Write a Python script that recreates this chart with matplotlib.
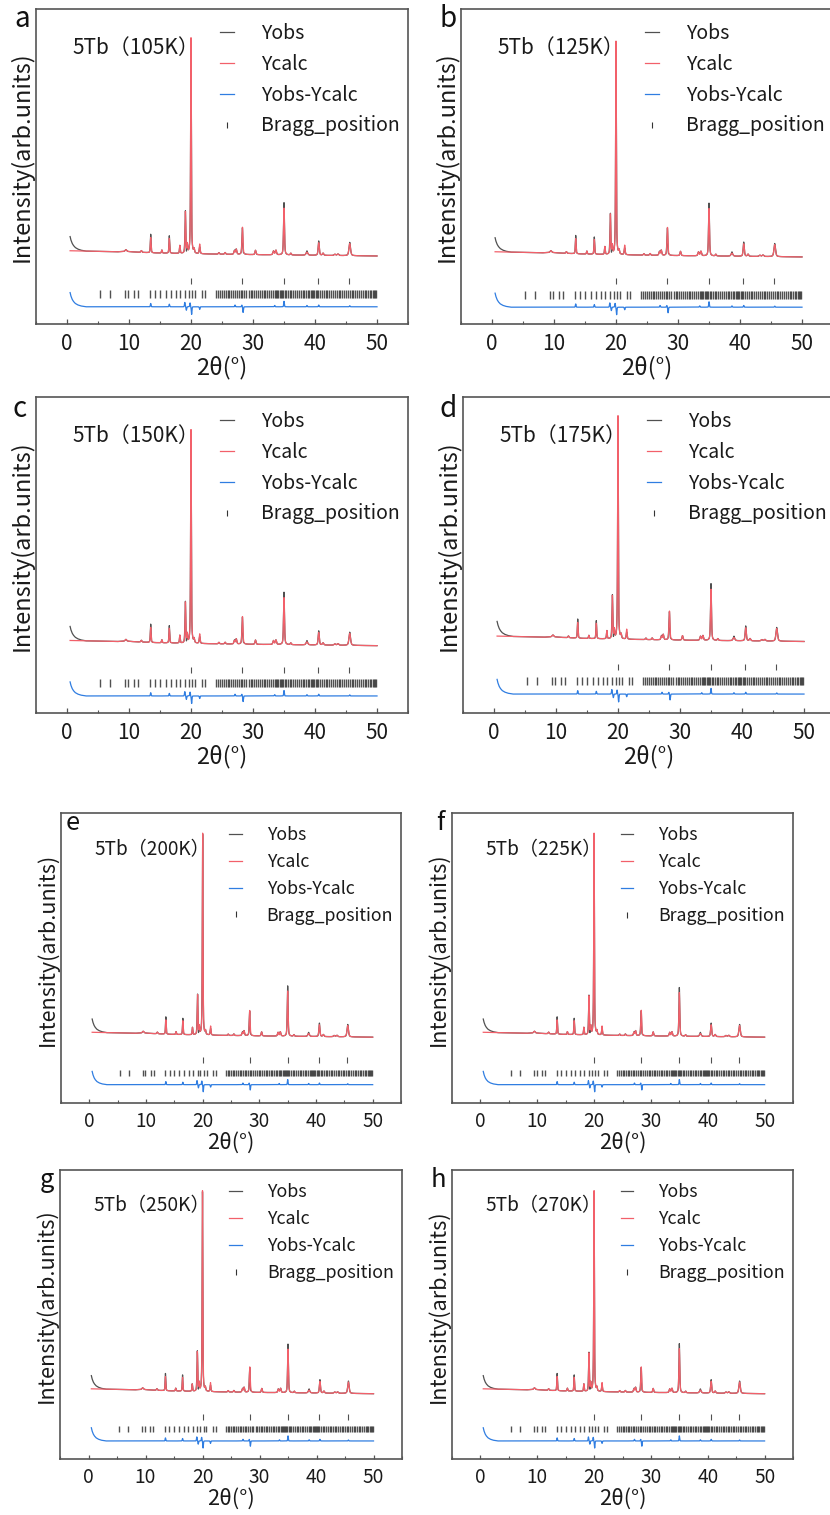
import numpy as np
import matplotlib
matplotlib.use('Agg')
import matplotlib.pyplot as plt
from matplotlib.lines import Line2D
from matplotlib.ticker import MultipleLocator

plt.rcParams['font.family'] = ['Noto Sans CJK SC', 'DejaVu Sans']

# ---------------- data ----------------
panel_letters = ['a', 'b', 'c', 'd', 'e', 'f', 'g', 'h']
temperatures = ['105K', '125K', '150K', '175K', '200K', '225K', '250K', '270K']

# calculated peaks (2theta, height above background, fwhm)
peak_pos = [9.5, 12.0, 13.5, 15.3, 16.5, 18.2, 19.1, 19.4, 20.0, 20.5, 21.4,
            24.5, 25.5, 27.0, 27.3, 28.3, 30.4, 33.3, 33.7, 35.0, 36.1,
            38.7, 40.6, 41.3, 43.2, 43.7, 45.6]
peak_height = [0.8, 0.8, 7.0, 1.4, 6.8, 3.6, 19.0, 4.0, 99.0, 1.8, 4.4,
               0.7, 0.8, 1.6, 2.4, 12.5, 2.0, 1.8, 2.1, 21.5, 0.8,
               1.4, 5.8, 1.0, 0.6, 0.7, 5.6]
peak_fwhm = [0.3, 0.2, 0.14, 0.15, 0.14, 0.14, 0.14, 0.14, 0.14, 0.15, 0.16,
             0.2, 0.2, 0.2, 0.2, 0.18, 0.2, 0.22, 0.22, 0.18, 0.2,
             0.35, 0.22, 0.25, 0.3, 0.3, 0.3]

# per-panel heights of the three strong secondary reflections
h_19p1 = [19.0, 18.5, 18.8, 19.0, 19.4, 18.9, 19.4, 18.7]
h_28p3 = [12.5, 13.0, 12.8, 12.8, 12.4, 12.5, 12.5, 12.5]
h_35p0 = [21.5, 22.0, 21.8, 22.7, 22.2, 21.4, 21.5, 21.7]

# slowly varying background of the calculated pattern
bg_x = [0.5, 2.0, 5.0, 8.0, 9.5, 11.0, 14.0, 20.0, 25.0, 30.0, 40.0, 50.0]
bg_y = [2.4, 2.3, 2.1, 1.9, 2.1, 1.8, 1.4, 1.0, 0.8, 0.6, 0.3, 0.0]

# low-angle excess of the observed pattern
upturn_x = [0.5, 0.6, 0.8, 1.0, 1.3, 1.7, 2.2, 3.0, 50.0]
upturn_y = [6.5, 5.2, 3.6, 2.6, 1.6, 0.9, 0.4, 0.0, 0.0]

# residual features (Yobs - Ycalc) at reflections
resid_pos = [13.5, 16.5, 19.0, 19.25, 19.85, 20.1, 21.4, 27.1, 28.2, 28.4,
             33.5, 35.0, 38.7, 40.6, 45.6]
resid_amp = [1.5, 1.2, 2.0, -1.6, 1.8, -3.5, -1.2, 0.8, 0.8, -2.6,
             0.6, 2.5, 0.6, 0.8, 0.5]

# Bragg reflections of the two phases
bragg_main = [5.4, 7.0, 9.4, 9.9, 10.8, 11.4, 13.4, 14.2, 15.0, 15.9, 16.7,
              17.5, 18.3, 19.1, 19.6, 20.2, 20.7, 21.8, 22.3, 24.1, 24.4,
              24.7, 25.0, 25.3, 25.6, 25.9, 26.2, 26.5, 26.8, 27.1, 27.4,
              27.7, 28.0, 28.3, 28.6, 28.9, 29.3, 29.6, 29.9, 30.2, 30.5,
              30.8, 31.1, 31.4, 31.7, 32.0, 32.3, 32.6, 32.9, 33.2, 33.5,
              33.7, 33.9, 34.1, 34.3, 34.5, 34.7, 34.9, 35.1, 35.3, 35.6,
              35.9, 36.2, 36.5, 36.8, 37.1, 37.4, 37.7, 38.0, 38.3, 38.6,
              38.9, 39.1, 39.3, 39.5, 39.7, 39.9, 40.1, 40.3, 40.5, 40.8,
              41.1, 41.4, 41.7, 42.0, 42.3, 42.6, 42.9, 43.2, 43.5, 43.8,
              44.1, 44.4, 44.7, 45.0, 45.3, 45.6, 45.9, 46.2, 46.5, 46.8,
              47.1, 47.4, 47.7, 48.0, 48.3, 48.6, 48.9, 49.1, 49.3, 49.5,
              49.7, 49.9]
bragg_second = [20.0, 28.3, 35.0, 40.5, 45.5]

x_ticks = [0, 10, 20, 30, 40, 50]

# --------------- layout (pixels in an 830x1515 canvas) ---------------
W, H = 830, 1515
axes_px = [  # left, top, right, bottom
    (36, 9, 408, 324), (461, 9, 833, 324),
    (36, 397, 408, 713), (463, 397, 835, 713),
    (61, 813, 401, 1103), (452, 813, 793, 1103),
    (60, 1170, 402, 1459), (452, 1170, 793, 1459),
]
ylims = [(-31.2, 113.3), (-31.1, 115.0), (-31.2, 115.2), (-31.7, 108.4),
         (-32.3, 110.0), (-32.3, 110.0), (-32.2, 110.3), (-32.2, 110.3)]
letter_px = [(22, 27), (448, 27), (20, 417), (448, 417),
             (73, 830), (440, 830), (47, 1187), (438, 1187)]

OFF_BRAGG2 = -11.3
OFF_BRAGG1 = -17.5
OFF_DIFF = -23.3

C_OBS = '#505050'
C_CALC = '#f2606a'
C_DIFF = '#2f7de1'
C_BRAGG = '#333333'
C_SPINE = '#555555'
C_TEXT = '#1a1a1a'

x = np.arange(0.5, 50.0001, 0.01)


def pv(x, pos, h, fwhm, eta=0.5):
    g = np.exp(-4 * np.log(2) * ((x - pos) / fwhm) ** 2)
    l = 1.0 / (1.0 + 4 * ((x - pos) / fwhm) ** 2)
    return h * (eta * l + (1 - eta) * g)


fig = plt.figure(figsize=(W / 100, H / 100), dpi=100)

for i in range(8):
    l, t, r, b = axes_px[i]
    ax = fig.add_axes([l / W, 1 - b / H, (r - l) / W, (b - t) / H])
    s = (r - l) / 372.0

    heights = list(peak_height)
    heights[peak_pos.index(19.1)] = h_19p1[i]
    heights[peak_pos.index(28.3)] = h_28p3[i]
    heights[peak_pos.index(35.0)] = h_35p0[i]

    ycalc = np.interp(x, bg_x, bg_y)
    for p, h, w in zip(peak_pos, heights, peak_fwhm):
        ycalc = ycalc + pv(x, p, h, w)
    excess = np.interp(x, upturn_x, upturn_y)
    for p, a in zip(resid_pos, resid_amp):
        excess = excess + pv(x, p, a, 0.12, eta=0.2)
    yobs = ycalc + excess
    diff = yobs - ycalc + OFF_DIFF

    ax.plot(x, yobs, color=C_OBS, lw=0.9, zorder=2)
    ax.plot(x, ycalc, color=C_CALC, lw=0.9, zorder=3)
    ax.plot(x, diff, color=C_DIFF, lw=0.9, zorder=3)
    ax.plot(bragg_main, np.full(len(bragg_main), OFF_BRAGG1), ls='none',
            marker='|', ms=5.2 * s, mew=1.0, color=C_BRAGG, alpha=0.85, zorder=2)
    ax.plot(bragg_second, np.full(len(bragg_second), OFF_BRAGG2), ls='none',
            marker='|', ms=4.5 * s, mew=0.8, color=C_BRAGG, alpha=0.85, zorder=2)

    ax.set_xlim(-5, 55)
    ax.set_ylim(*ylims[i])
    ax.set_xticks(x_ticks)
    ax.xaxis.set_minor_locator(MultipleLocator(5))
    ax.set_yticks([])
    ax.tick_params(axis='x', which='major', direction='in', length=3.5 * s,
                   width=0.9, color=C_SPINE, labelsize=15 * s, pad=6.5 * s,
                   labelcolor=C_TEXT)
    ax.tick_params(axis='x', which='minor', direction='in', length=2.5 * s,
                   width=0.8, color=C_SPINE)
    for sp in ax.spines.values():
        sp.set_color(C_SPINE)
        sp.set_linewidth(1.2)

    ax.set_xlabel('2θ(°)', fontsize=17 * s, color=C_TEXT)
    ax.xaxis.set_label_coords(0.5, -0.1)
    ax.set_ylabel('Intensity(arb.units)', fontsize=17 * s, color=C_TEXT)
    ax.yaxis.set_label_coords(-0.006, 0.53)

    # x in data coordinates, y in axes coordinates
    ax.text(0.9, 0.875, '5Tb（' + temperatures[i] + '）',
            transform=ax.get_xaxis_transform(),
            fontsize=15 * s, ha='left', va='center', color=C_TEXT)

    handles = [Line2D([], [], color=C_OBS, lw=0.9),
               Line2D([], [], color=C_CALC, lw=0.9),
               Line2D([], [], color=C_DIFF, lw=0.9),
               Line2D([], [], ls='none', marker='|', ms=4.5 * s, mew=0.8,
                      color=C_BRAGG)]
    ax.legend(handles, ['Yobs', 'Ycalc', 'Yobs-Ycalc', 'Bragg_position'],
              loc='upper left', bbox_to_anchor=(0.495, 0.955), frameon=False,
              fontsize=14 * s, handlelength=0.7, handletextpad=1.4,
              labelspacing=0.5, borderpad=0, borderaxespad=0,
              labelcolor=C_TEXT)

    lx, ly = letter_px[i]
    fig.text(lx / W, 1 - ly / H, panel_letters[i], fontsize=20 * s,
             ha='center', va='baseline', color='#111111')

fig.savefig('out.png', dpi=100, facecolor='white')
